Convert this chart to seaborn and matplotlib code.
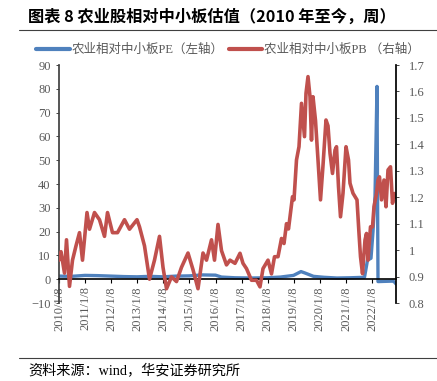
import numpy as np
import pandas as pd
import seaborn as sns
import matplotlib.pyplot as plt
from matplotlib.lines import Line2D
from matplotlib.ticker import FormatStrFormatter

# 农业相对中小板PE (left axis)
pe_dates = ["2010-01-08", "2010-07-02", "2011-01-07", "2011-07-01", "2012-01-06",
            "2012-07-06", "2013-01-04", "2013-07-05", "2014-01-03", "2014-07-04",
            "2015-01-09", "2015-07-03", "2016-01-08", "2016-04-01", "2016-10-07",
            "2017-06-02", "2018-01-05", "2018-07-06", "2019-01-04", "2019-04-19",
            "2019-06-14", "2019-10-11", "2020-03-06", "2020-09-04", "2021-03-05",
            "2021-09-24", "2021-11-05", "2021-12-24", "2022-01-21", "2022-02-18",
            "2022-03-18", "2022-04-01", "2022-10-28", "2022-11-25", "2022-12-09"]
pe_values = [1.3, 1.2, 1.6, 1.5, 1.3,
             1.1, 1.0, 1.2, 1.0, 1.3,
             1.4, 1.8, 1.7, 0.9, 0.6,
             0.5, 0.6, 0.9, 1.6, 3.2,
             2.6, 1.2, 0.8, 0.5, 0.6,
             0.8, 8.0, 8.8, 20.0, 35.0,
             81.0, -1.0, -0.8, -1.4, -2.0]

# 农业相对中小板PB (right axis)
pb_dates = ["2010-01-08", "2010-02-05", "2010-03-26", "2010-04-23", "2010-06-04",
            "2010-07-16", "2010-09-03", "2010-10-22", "2010-12-03", "2011-02-04",
            "2011-03-11", "2011-05-20", "2011-07-29", "2011-10-07", "2011-11-18",
            "2012-01-27", "2012-04-06", "2012-07-13", "2012-09-21", "2013-01-04",
            "2013-02-08", "2013-04-19", "2013-06-28", "2013-09-06", "2013-11-15",
            "2014-01-03", "2014-02-21", "2014-05-02", "2014-07-11", "2014-09-19",
            "2014-12-19", "2015-02-27", "2015-05-08", "2015-07-17", "2015-09-04",
            "2015-11-13", "2015-12-25", "2016-02-12", "2016-04-01", "2016-06-10",
            "2016-07-29", "2016-10-07", "2016-12-16", "2017-01-27", "2017-03-17",
            "2017-05-26", "2017-08-04", "2017-09-22", "2017-11-03", "2018-01-12",
            "2018-03-02", "2018-04-13", "2018-06-01", "2018-07-20", "2018-08-24",
            "2018-09-28", "2018-10-26", "2018-12-21", "2019-01-11", "2019-02-15",
            "2019-03-22", "2019-04-26", "2019-06-07", "2019-06-28", "2019-07-26",
            "2019-08-23", "2019-09-13", "2019-10-04", "2019-11-08", "2019-12-13",
            "2020-01-17", "2020-02-21", "2020-04-03", "2020-05-01", "2020-05-29",
            "2020-07-03", "2020-08-07", "2020-08-28", "2020-09-25", "2020-10-23",
            "2020-11-27", "2021-01-08", "2021-02-12", "2021-03-05", "2021-04-16",
            "2021-06-11", "2021-07-09", "2021-07-30", "2021-08-27", "2021-10-01",
            "2021-10-22", "2021-11-12", "2021-12-17", "2022-01-14", "2022-02-04",
            "2022-03-11", "2022-04-01", "2022-04-22", "2022-05-20", "2022-06-24",
            "2022-07-22", "2022-08-19", "2022-09-23", "2022-10-21", "2022-11-18",
            "2022-12-09"]
pb_values = [0.962, 0.994, 0.913, 1.039, 0.863,
             0.962, 1.016, 1.066, 0.962, 1.142,
             1.079, 1.142, 1.115, 1.052, 1.142,
             1.066, 1.066, 1.115, 1.079, 1.115,
             1.088, 1.016, 0.890, 0.962, 1.052,
             0.935, 0.854, 0.899, 0.881, 0.935,
             0.989, 0.926, 0.854, 0.989, 0.962,
             1.039, 0.962, 1.097, 0.998, 0.944,
             0.962, 0.950, 0.988, 0.950, 0.930,
             0.886, 0.886, 0.861, 0.930, 0.962,
             0.910, 0.975, 0.975, 1.044, 1.025,
             1.100, 1.080, 1.202, 1.190, 1.341,
             1.391, 1.555, 1.429, 1.593, 1.656,
             1.580, 1.416, 1.580, 1.490, 1.341,
             1.190, 1.320, 1.492, 1.470, 1.366,
             1.290, 1.378, 1.391, 1.240, 1.126,
             1.215, 1.391, 1.341, 1.253, 1.215,
             1.190, 1.063, 0.975, 0.911, 1.038,
             1.063, 0.962, 1.088, 1.088, 1.164,
             1.214, 1.265, 1.277, 1.190, 1.265,
             1.164, 1.303, 1.315, 1.177, 1.214,
             1.200]

tick_labels = ["2010/1/8", "2011/1/8", "2012/1/8", "2013/1/8", "2014/1/8",
               "2015/1/8", "2016/1/8", "2017/1/8", "2018/1/8", "2019/1/8",
               "2020/1/8", "2021/1/8", "2022/1/8"]

title = "图表 8 农业股相对中小板估值（2010 年至今，周）"
source = "资料来源：wind，华安证券研究所"
pe_label = "农业相对中小板PE（左轴）"
pb_label = "农业相对中小板PB （右轴）"

sns.set_theme(style="white")
plt.rcParams["font.family"] = ["Liberation Serif", "Noto Sans CJK SC"]

pe = pd.DataFrame({"date": pd.to_datetime(pe_dates), "value": pe_values})
pb = pd.DataFrame({"date": pd.to_datetime(pb_dates), "value": pb_values})

blue = "#4F81BD"
red = "#C0504D"
grey = "#595959"

fig = plt.figure(figsize=(4.37, 3.81), dpi=100)
ax = fig.add_axes([59 / 437, 1 - 303 / 381, 337 / 437, 238 / 381])
ax2 = ax.twinx()

sns.lineplot(data=pe, x="date", y="value", ax=ax, color=blue, linewidth=2.4)
sns.lineplot(data=pb, x="date", y="value", ax=ax2, color=red, linewidth=2.6)

ax.set_xlim(pd.Timestamp("2010-01-08"), pd.Timestamp("2022-12-09"))
ax.set_ylim(-10, 90)
ax2.set_ylim(0.8, 1.7)
ax.set_yticks(np.arange(-10, 91, 10))
ax2.set_yticks(np.arange(0.8, 1.71, 0.1))
ax2.yaxis.set_major_formatter(FormatStrFormatter("%g"))

ticks = pd.to_datetime(tick_labels, format="%Y/%m/%d")
ax.set_xticks(ticks)
ax.set_xticklabels(tick_labels)

ax.spines["bottom"].set_position(("data", 0))
for a in (ax, ax2):
    a.spines["top"].set_visible(False)
    a.set_xlabel("")
    a.set_ylabel("")
ax.spines["right"].set_visible(False)
ax2.spines["left"].set_visible(False)
ax2.spines["bottom"].set_visible(False)
ax.spines["left"].set_color("#404040")
ax.spines["bottom"].set_color("black")
ax.spines["bottom"].set_linewidth(1.2)
ax2.spines["right"].set_color("black")

ax.tick_params(axis="x", direction="out", length=3, width=0.8, color="black",
               labelsize=9, labelcolor=grey, pad=2, bottom=True,
               labelrotation=90)
ax.tick_params(axis="y", direction="out", length=2, width=0.6, labelsize=9,
               labelcolor=grey, pad=4, left=True)
ax2.tick_params(axis="y", direction="out", length=2, width=0.6, labelsize=9,
                labelcolor=grey, pad=7, right=True)
for lab in ax.get_xticklabels():
    lab.set_rotation(90)
    lab.set_va("top")
    lab.set_ha("center")

handles = [Line2D([], [], color=blue, linewidth=3),
           Line2D([], [], color=red, linewidth=3)]
fig.legend(handles, [pe_label, pb_label], loc="center", ncol=2,
           bbox_to_anchor=(228 / 437, 1 - 50 / 381), frameon=False,
           fontsize=9, labelcolor=grey, handlelength=2.7, handletextpad=0.15,
           columnspacing=0.4, borderaxespad=0)

fig.text(28 / 437, 1 - 17 / 381, title, fontsize=11.7, fontweight="bold",
         family=["Noto Sans CJK SC"], va="center", ha="left", color="black")
fig.text(28 / 437, 1 - 371 / 381, source, fontsize=10.2,
         family=["Liberation Serif", "Noto Sans CJK SC"], va="center", ha="left",
         color="black")
fig.add_artist(Line2D([19 / 437, 1], [1 - 30 / 381, 1 - 30 / 381],
                      color="#404040", linewidth=0.8))
fig.add_artist(Line2D([19 / 437, 1], [1 - 358 / 381, 1 - 358 / 381],
                      color="#404040", linewidth=0.8))

fig.savefig("out.png", dpi=100)
